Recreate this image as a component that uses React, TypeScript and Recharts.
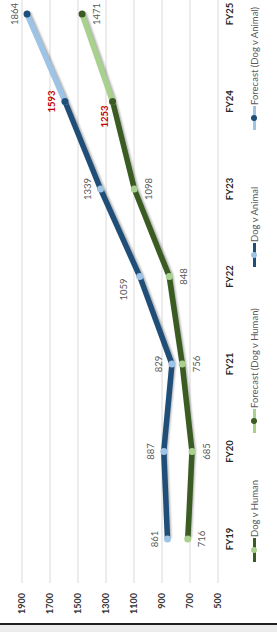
import React from "react";
import { LineChart, Line, XAxis, YAxis, CartesianGrid, LabelList } from "recharts";

// values
const years = ["FY19", "FY20", "FY21", "FY22", "FY23", "FY24", "FY25"];
const dogHuman = [716, 685, 756, 848, 1098, 1253, null];
const forecastHuman = [null, null, null, null, null, 1253, 1471];
const dogAnimal = [861, 887, 829, 1059, 1339, 1593, null];
const forecastAnimal = [null, null, null, null, null, 1593, 1864];
const valueTicks = [500, 700, 900, 1100, 1300, 1500, 1700, 1900];

const data = years.map((year, i) => ({
  year,
  dogHuman: dogHuman[i],
  forecastHuman: forecastHuman[i],
  dogAnimal: dogAnimal[i],
  forecastAnimal: forecastAnimal[i],
}));

const DARK_GREEN = "#3a5c22";
const LIGHT_GREEN = "#a9d18e";
const DARK_BLUE = "#1f4e79";
const LIGHT_BLUE = "#9dc3e6";

// a couple of labels sit off their usual spot
const labelShift: Record<string, [number, number]> = {
  "dogHuman-5": [-15, -22],
  "dogAnimal-3": [-13, -3],
};

const makeLabel =
  (key: string, side: "above" | "below", skip: number[]) =>
  (props: any) => {
    const { x, y, value, index } = props;
    if (value == null || skip.includes(index)) return null;
    const highlight = index === 5;
    const [dx, dy] = labelShift[`${key}-${index}`] || [0, 0];
    const off = side === "above" ? -13 : 14;
    return (
      <text
        x={x + dx}
        y={y + off + dy}
        textAnchor="middle"
        dominantBaseline="central"
        fontSize={9.5}
        fontWeight={highlight ? 700 : 400}
        fill={highlight ? "#c00000" : "#595959"}
      >
        {value}
      </text>
    );
  };

const legendItems = [
  { name: "Dog v Human", line: DARK_GREEN, dot: LIGHT_GREEN, left: 70 },
  { name: "Forecast (Dog v Human)", line: LIGHT_GREEN, dot: DARK_GREEN, left: 199 },
  { name: "Dog v Animal", line: DARK_BLUE, dot: LIGHT_BLUE, left: 365 },
  { name: "Forecast (Dog v Animal)", line: LIGHT_BLUE, dot: DARK_BLUE, left: 502 },
];

export default function App() {
  return (
    <div
      style={{
        position: "fixed",
        left: 0,
        top: 0,
        width: 277,
        height: 632,
        overflow: "hidden",
        background: "#fff",
        fontFamily: "Lato, 'Open Sans', sans-serif",
      }}
    >
      <style>
        {".recharts-line-curve{filter:drop-shadow(1px 1.5px 1px rgba(0,0,0,0.35))}"}
      </style>
      {/* chart drawn landscape, then turned a quarter counter-clockwise */}
      <div
        style={{
          position: "absolute",
          left: 0,
          top: 0,
          width: 680,
          height: 277,
          transformOrigin: "0 0",
          transform: "translateY(632px) rotate(-90deg)",
        }}
      >
        <LineChart width={680} height={277} data={data} margin={{ top: 22, right: 18, bottom: 29, left: 0 }}>
          <CartesianGrid vertical={false} stroke="#d9d9d9" />
          <XAxis
            dataKey="year"
            height={30}
            padding={{ left: 44, right: 44 }}
            axisLine={false}
            tickLine={false}
            tick={{ fontSize: 9.5, fontWeight: 700, fill: "#262626" }}
          />
          <YAxis
            width={49}
            domain={[500, 1900]}
            ticks={valueTicks}
            axisLine={false}
            tickLine={false}
            tickMargin={4}
            tick={{ fontSize: 9, fontWeight: 700, fill: "#333" }}
          />
          <Line
            dataKey="dogHuman"
            stroke={DARK_GREEN}
            strokeWidth={5.5}
            dot={{ r: 3.5, fill: LIGHT_GREEN, stroke: "none" }}
            activeDot={false}
            isAnimationActive={false}
          >
            <LabelList dataKey="dogHuman" content={makeLabel("dogHuman", "below", [])} />
          </Line>
          <Line
            dataKey="forecastHuman"
            stroke={LIGHT_GREEN}
            strokeWidth={5.5}
            dot={{ r: 3.5, fill: DARK_GREEN, stroke: "none" }}
            activeDot={false}
            isAnimationActive={false}
          >
            <LabelList dataKey="forecastHuman" content={makeLabel("forecastHuman", "below", [5])} />
          </Line>
          <Line
            dataKey="dogAnimal"
            stroke={DARK_BLUE}
            strokeWidth={5.5}
            dot={{ r: 3.5, fill: LIGHT_BLUE, stroke: "none" }}
            activeDot={false}
            isAnimationActive={false}
          >
            <LabelList dataKey="dogAnimal" content={makeLabel("dogAnimal", "above", [])} />
          </Line>
          <Line
            dataKey="forecastAnimal"
            stroke={LIGHT_BLUE}
            strokeWidth={5.5}
            dot={{ r: 3.5, fill: DARK_BLUE, stroke: "none" }}
            activeDot={false}
            isAnimationActive={false}
          >
            <LabelList dataKey="forecastAnimal" content={makeLabel("forecastAnimal", "above", [5])} />
          </Line>
        </LineChart>
        {legendItems.map((item) => (
          <div
            key={item.name}
            style={{
              position: "absolute",
              top: 247,
              left: item.left,
              height: 14,
              display: "flex",
              alignItems: "center",
              whiteSpace: "nowrap",
              fontSize: 9.5,
              color: "#595959",
            }}
          >
            <span style={{ position: "relative", width: 24, height: 14, display: "inline-block" }}>
              <span
                style={{
                  position: "absolute",
                  left: 0,
                  top: 5.5,
                  width: 24,
                  height: 3,
                  background: item.line,
                }}
              />
              <span
                style={{
                  position: "absolute",
                  left: 9,
                  top: 4,
                  width: 6,
                  height: 6,
                  borderRadius: "50%",
                  background: item.dot,
                }}
              />
            </span>
            <span style={{ marginLeft: 1 }}>{item.name}</span>
          </div>
        ))}
      </div>
      <div style={{ position: "absolute", left: 0, top: 623, width: 277, height: 2, background: "#1e1e1e" }} />
      <div style={{ position: "absolute", left: 0, top: 625, width: 277, height: 7, background: "#ececec" }} />
    </div>
  );
}
